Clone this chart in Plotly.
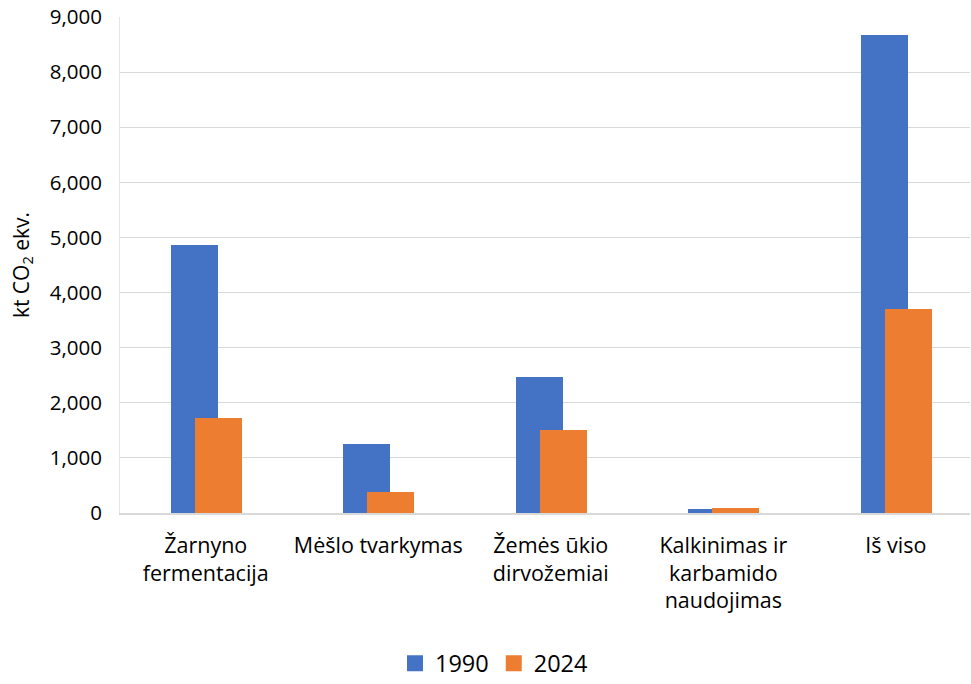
import plotly.graph_objects as go

categories = ["Žarnyno<br>fermentacija", "Mėšlo tvarkymas", "Žemės ūkio<br>dirvožemiai",
              "Kalkinimas ir<br>karbamido<br>naudojimas", "Iš viso"]
values_1990 = [4870, 1250, 2470, 80, 8670]
values_2024 = [1720, 390, 1510, 85, 3700]
series_names = ["1990", "2024"]
series_colors = ["#4472C4", "#ED7D31"]
y_ticks = [0, 1000, 2000, 3000, 4000, 5000, 6000, 7000, 8000, 9000]
y_ticktext = ["0", "1,000", "2,000", "3,000", "4,000", "5,000", "6,000", "7,000", "8,000", "9,000"]

pos = list(range(len(categories)))
FONT = "Open Sans, Liberation Sans, sans-serif"

fig = go.Figure()
for vals, name, col, off in [(values_1990, series_names[0], series_colors[0], -0.203),
                             (values_2024, series_names[1], series_colors[1], -0.064)]:
    fig.add_trace(go.Bar(x=pos, y=vals, name=name, marker_color=col,
                         offset=off, width=0.273, marker_line_width=0,
                         showlegend=False, legendgroup=name))
# legend entries with larger square swatches
for name, col in zip(series_names, series_colors):
    fig.add_trace(go.Scatter(x=[None], y=[None], mode="markers", name=name,
                             marker=dict(symbol="square", size=17, color=col),
                             legendgroup=name, showlegend=True))

fig.update_layout(
    width=971, height=684,
    barmode="overlay",
    plot_bgcolor="white", paper_bgcolor="white",
    margin=dict(l=120, r=1, t=17, b=171),
    font=dict(family=FONT, size=20, color="#000000"),
    xaxis=dict(tickmode="array", tickvals=pos, ticktext=categories,
               range=[-0.497, 4.43], showgrid=False, showline=True,
               linecolor="#D9D9D9", linewidth=1.5, ticks="outside", tickcolor="rgba(0,0,0,0)",
               ticklen=12, tickfont=dict(size=21.5), zeroline=False, automargin=False),
    yaxis=dict(tickmode="array", tickvals=y_ticks, ticktext=y_ticktext,
               range=[0, 9000], showgrid=True, gridcolor="#D9D9D9", gridwidth=1,
               showline=True, linecolor="#E6E6E6", linewidth=1, zeroline=False,
               ticks="outside", tickcolor="rgba(0,0,0,0)", ticklen=13,
               tickfont=dict(size=20.5), automargin=False,
               title=dict(text="kt CO<sub>2</sub> ekv.", font=dict(size=21), standoff=14)),
    legend=dict(orientation="h", x=0.44, xanchor="center",
                yref="container", y=0.03, yanchor="middle",
                font=dict(size=23.5), traceorder="normal", itemsizing="trace"),
    bargap=0,
)

fig.write_html("out.html", config={"displayModeBar": False},
               post_script="document.body.style.margin='0';")
